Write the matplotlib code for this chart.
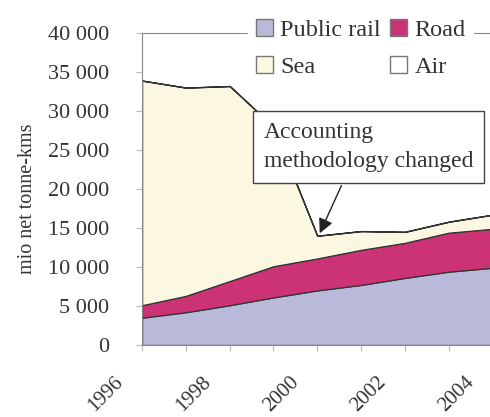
import matplotlib
matplotlib.use("Agg")
import matplotlib.pyplot as plt
import matplotlib.transforms as mtransforms
from matplotlib.patches import Patch

years = [1996, 1997, 1998, 1999, 2000, 2001, 2002, 2003, 2004]
rail = [3500, 4200, 5100, 6100, 7000, 7700, 8600, 9400, 9900]
road = [1600, 2100, 3100, 4000, 4100, 4500, 4500, 5000, 5000]
sea = [28800, 26700, 25000, 17900, 2900, 2400, 1400, 1400, 1800]
air = [20, 20, 20, 20, 20, 20, 20, 20, 20]
yticks = [0, 5000, 10000, 15000, 20000, 25000, 30000, 35000, 40000]
xtick_labels = ["1996", "1998", "2000", "2002", "2004"]

labels = ["Public rail", "Road", "Sea", "Air"]
colors = ["#b9b9da", "#cc3374", "#fcf7e0", "#ffffff"]

plt.rcParams['font.family'] = ['Liberation Serif', 'DejaVu Serif']

fig = plt.figure(figsize=(4.90, 4.17), dpi=100)
ax = fig.add_axes([0.29, 0.1727, 0.715, 0.748])

ax.stackplot(years, rail, road, sea, air, colors=colors,
             edgecolor="#333333", linewidth=0.9)

ax.set_xlim(1996, 2004)
ax.set_ylim(0, 40000)
ax.set_yticks(yticks)
ax.set_yticklabels([f"{v:,}".replace(",", " ") for v in yticks], fontsize=16, color="#333333")
ax.set_xticks(years)
ax.set_xticklabels([str(y) if str(y) in xtick_labels else "" for y in years],
                   rotation=45, ha="right", rotation_mode="anchor", fontsize=15, color="#333333")
ax.tick_params(axis="both", direction="out", length=4, color="#bbbbbb")
ax.tick_params(axis="y", pad=20)
ax.tick_params(axis="x", pad=16)
offset = mtransforms.ScaledTranslation(-28 / 100, 0 / 100, fig.dpi_scale_trans)
for lab in ax.get_xticklabels():
    lab.set_transform(lab.get_transform() + offset)
ax.spines["right"].set_visible(False)
for s in ["left", "bottom", "top"]:
    ax.spines[s].set_color("#888888")

ax.set_ylabel("mio net tonne-kms", fontsize=14.5, color="#333333")
ax.yaxis.set_label_coords(-0.30, 0.468)

ax.annotate("Accounting\nmethodology changed", xy=(2000.03, 14000),
            xytext=(1998.78, 28600), textcoords="data",
            ha="left", va="top", fontsize=17, color="#333333", linespacing=1.5,
            bbox=dict(boxstyle="square,pad=0.45", fc="white", ec="#444444", lw=1),
            arrowprops=dict(arrowstyle="-|>", color="#222222", lw=1,
                            mutation_scale=22, relpos=(0.4, 0.0)))

handles = [Patch(facecolor=colors[0], edgecolor="#777777"),
           Patch(facecolor=colors[2], edgecolor="#777777"),
           Patch(facecolor=colors[1], edgecolor="#777777"),
           Patch(facecolor=colors[3], edgecolor="#777777")]
leg_labels = [labels[0], labels[2], labels[1], labels[3]]
leg = fig.legend(handles, leg_labels, ncol=2, loc="upper right",
                 bbox_to_anchor=(0.99, 1.0), frameon=True, fontsize=17.5,
                 handlelength=0.7, handleheight=0.7, handletextpad=0.3,
                 columnspacing=0.4, labelspacing=0.6, borderpad=0.3, fancybox=False)
leg.get_frame().set_edgecolor("white")
leg.get_frame().set_facecolor("white")
leg.get_frame().set_alpha(1)
for t in leg.get_texts():
    t.set_color("#333333")

fig.savefig("out.png", dpi=100)
